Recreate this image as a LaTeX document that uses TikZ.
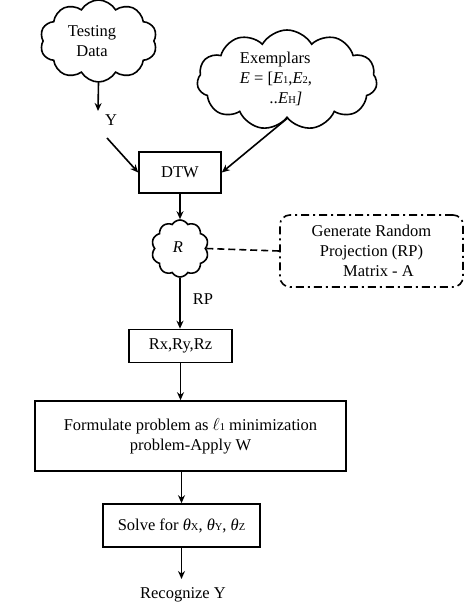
\documentclass[tikz,border=0pt]{standalone}
\usepackage{fontspec}
\setmainfont{Liberation Serif}
\usetikzlibrary{shapes.symbols,arrows.meta}
\newcommand\sbs[1]{{\fontsize{10.5}{11}\selectfont\upshape #1}}
\begin{document}
\begin{tikzpicture}[x=1pt,y=-1pt,
  every node/.style={font=\fontsize{16.5}{20}\selectfont},
  box/.style={draw,line width=1.6pt,inner sep=0pt,align=center},
  cloudnode/.style={draw,cloud,line width=1.6pt,inner sep=0pt,cloud puff arc=120},
  txt/.style={inner sep=0pt,align=center},
  arr/.style={-{Stealth[length=8pt,width=7pt]},line width=1.6pt},
  dashline/.style={line width=1.6pt,dash pattern=on 7pt off 4pt},
  dashdot/.style={draw,line width=1.6pt,rounded corners=10pt,dash pattern=on 8pt off 4pt on 2pt off 4pt,inner sep=0pt,align=center}]
\useasboundingbox (0,0) rectangle (464,609);
% clouds
\node[cloudnode,cloud puffs=10,minimum width=117pt,minimum height=82pt] (tcloud) at (98.5,41) {};
\node[txt] (ttext) at (92,41) {Testing\\Data};
\node[cloudnode,cloud puffs=11,minimum width=180pt,minimum height=100pt] (ecloud) at (287,80) {};
\node[txt,align=left] (etext) at (276,79) {Exemplars\\\textit{E} = [\textit{E}\sbs{1},\textit{E}\sbs{2},\\\hspace{30pt}\textit{..E}\sbs{H}\textit{]}};
\node[cloudnode,cloud puffs=10,minimum width=57pt,minimum height=57pt] (rcloud) at (180,248.5) {};
\node[txt] (rtext) at (178,247) {\textit{R}};
% boxes
\node[box,minimum width=82pt,minimum height=41pt] (dtw) at (180,172.5) {DTW};
\node[dashdot,minimum width=183pt,minimum height=72pt] (rp) at (371.5,251) {Generate Random\\Projection (RP)\\\hspace{14pt}Matrix - A};
\node[box,minimum width=103pt,minimum height=33pt] (rxyz) at (180.5,346) {Rx,Ry,Rz};
\node[box,minimum width=311pt,minimum height=70pt] (form) at (190.5,436) {Formulate problem as $\ell$\sbs{1} minimization\\problem-Apply W};
\node[box,minimum width=157pt,minimum height=43pt] (solve) at (181.5,525.5) {Solve for \textit{θ}\sbs{X}, \textit{θ}\sbs{Y}, \textit{θ}\sbs{Z}};
% labels
\node[txt] (ylab) at (111,120) {Y};
\node[txt] (rplab) at (203,299) {RP};
\node[txt] (recog) at (183,595) {Recognize Y};
\coordinate (yend) at (98,111);
\coordinate (ystart) at (107,138);
\coordinate (recend) at (181.5,579);
% connectors
\draw[arr] (tcloud.south) -- (yend);
\draw[arr] (ystart) -- (dtw.west);
\draw[arr] (ecloud.south) -- (dtw.east);
\draw[arr] (dtw.south) -- (rcloud.north);
\draw[dashline] (rcloud.east) -- (rp.west);
\draw[arr] (rcloud.south) -- (rcloud.south |- rxyz.north);
\draw[arr] (rxyz.south) -- (rxyz.south |- form.north);
\draw[arr] (solve.north |- form.south) -- (solve.north);
\draw[arr] (solve.south) -- (recend);
\end{tikzpicture}
\end{document}
